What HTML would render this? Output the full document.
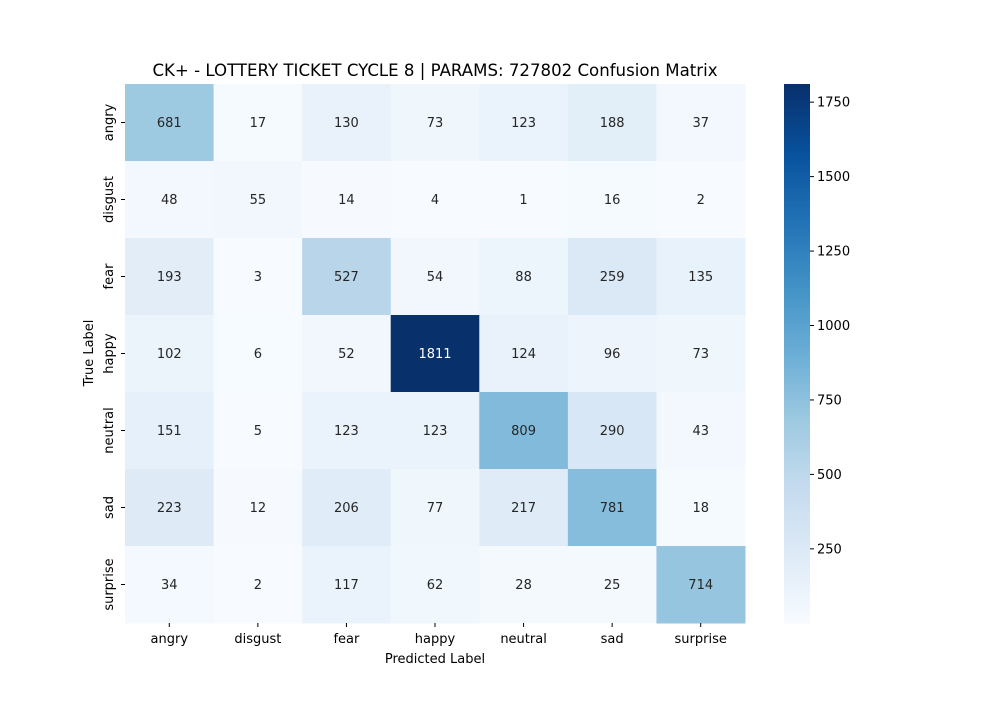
<!DOCTYPE html>
<html><head><meta charset="utf-8"><style>
body{margin:0;background:#fff;font-family:"Liberation Sans","DejaVu Sans",sans-serif;}
svg text{font-family:"DejaVu Sans","Liberation Sans",sans-serif;}
</style></head><body>
<svg id="chart" width="1000" height="700" xmlns="http://www.w3.org/2000/svg">
<text x="435" y="76" font-size="16.6" text-anchor="middle" fill="#000">CK+ - LOTTERY TICKET CYCLE 8 | PARAMS: 727802 Confusion Matrix</text>
<g id="cells"></g>
<g id="colorbar"></g>
<text x="435" y="663" font-size="13" text-anchor="middle">Predicted Label</text>
<text x="0" y="0" font-size="13" text-anchor="middle" transform="translate(93,353) rotate(-90)">True Label</text>
</svg>
<script>
const labels=["angry","disgust","fear","happy","neutral","sad","surprise"];
const row0=[681,17,130,73,123,188,37];
const row1=[48,55,14,4,1,16,2];
const row2=[193,3,527,54,88,259,135];
const row3=[102,6,52,1811,124,96,73];
const row4=[151,5,123,123,809,290,43];
const row5=[223,12,206,77,217,781,18];
const row6=[34,2,117,62,28,25,714];
const matrix=[row0,row1,row2,row3,row4,row5,row6];
const cbTicks=[250,500,750,1000,1250,1500,1750];

const NS="http://www.w3.org/2000/svg";
const X0=125,X1=745,Y0=84,Y1=623;
const all=matrix.flat();
const vmin=Math.min(...all),vmax=Math.max(...all);
const stops=["#f7fbff","#deebf7","#c6dbef","#9ecae1","#6baed6","#4292c6","#2171b5","#08519c","#08306b"].map(h=>[1,3,5].map(i=>parseInt(h.substr(i,2),16)));
function cmap(v){let t=(v-vmin)/(vmax-vmin);t=Math.max(0,Math.min(1,t))*(stops.length-1);const i=Math.min(Math.floor(t),stops.length-2),f=t-i;return stops[i].map((c,k)=>Math.round(c+(stops[i+1][k]-c)*f));}
function lum(c){const l=c.map(x=>{x/=255;return x<=0.03928?x/12.92:Math.pow((x+0.055)/1.055,2.4)});return 0.2126*l[0]+0.7152*l[1]+0.0722*l[2];}
const n=labels.length,cw=(X1-X0)/n,ch=(Y1-Y0)/n;
const xs=i=>X0+i*cw, ys=j=>Y0+j*ch;
function mk(tag,attrs,parent){const e=document.createElementNS(NS,tag);for(const k in attrs)e.setAttribute(k,attrs[k]);parent.appendChild(e);return e;}
const g=document.getElementById("cells");
matrix.forEach((row,j)=>row.forEach((v,i)=>{
 const c=cmap(v);
 const r=mk("rect",{x:xs(i),y:ys(j),width:cw+0.5,height:ch+0.5,fill:`rgb(${c})`},g);
 
 
 const t=mk("text",{x:xs(i)+cw/2,y:ys(j)+ch/2+4.5,"font-size":13,"text-anchor":"middle",fill:lum(c)>0.408?"#262626":"#ffffff"},g);
 t.textContent=v;
 
 
}));
labels.forEach((l,i)=>{
 mk("line",{x1:xs(i)+cw/2,x2:xs(i)+cw/2,y1:Y1,y2:Y1+4,stroke:"#000"},g);
 const t=mk("text",{x:xs(i)+cw/2,y:Y1+20,"font-size":13,"text-anchor":"middle"},g);t.textContent=l;
 
 
 const y=ys(i)+ch/2;
 mk("line",{x1:X0-4,x2:X0,y1:y,y2:y,stroke:"#000"},g);
 const t2=mk("text",{x:0,y:0,"font-size":13,"text-anchor":"middle",transform:`translate(${X0-12},${y}) rotate(-90)`},g);t2.textContent=l;
 
 
});
const cb=document.getElementById("colorbar");
const CX=784,CW=26,N=200;
for(let k=0;k<N;k++){const v=vmin+(vmax-vmin)*(k+0.5)/N;const c=cmap(v);const h=(Y1-Y0)/N;
 const r=mk("rect",{x:CX,y:Y1-(k+1)*h,width:CW,height:h+0.6,fill:`rgb(${c})`},cb);
 
 }
const cy=v=>Y1-(v-vmin)/(vmax-vmin)*(Y1-Y0);
cbTicks.forEach(v=>{const y=cy(v);
 mk("line",{x1:CX+CW,x2:CX+CW+4,y1:y,y2:y,stroke:"#000"},cb);
 const t=mk("text",{x:CX+CW+7,y:y+4.5,"font-size":13},cb);t.textContent=v;
 
 });
</script>
</body></html>
